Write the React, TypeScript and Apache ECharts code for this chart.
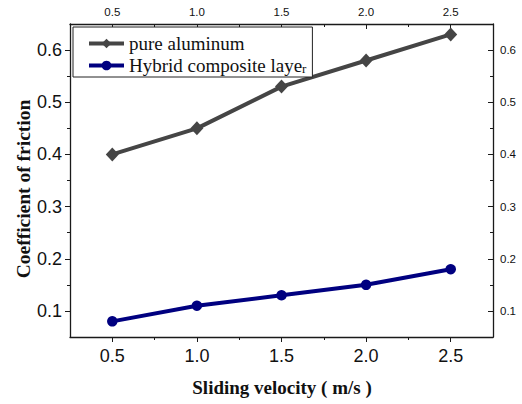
import React, { useEffect, useRef } from "react";
import * as echarts from "echarts";

const velocities = [0.5, 1.0, 1.5, 2.0, 2.5];
const pureAluminum = [0.4, 0.45, 0.53, 0.58, 0.63];
const hybridLayer = [0.08, 0.11, 0.13, 0.15, 0.18];
const xMajor = [0.5, 1.0, 1.5, 2.0, 2.5];
const xMinor = [0.75, 1.25, 1.75, 2.25];
const yMajor = [0.1, 0.2, 0.3, 0.4, 0.5, 0.6];
const yMinor = [0.15, 0.25, 0.35, 0.45, 0.55];
const seriesNames = ["pure aluminum", "Hybrid composite layer"];
const xTitle = "Sliding velocity ( m/s )";
const yTitle = "Coefficient of friction";

const SANS = "'Liberation Sans', Arial, sans-serif";
const SERIF = "'Liberation Serif', 'Times New Roman', serif";
const AX = "#1a1a1a";

export default function App() {
  const ref = useRef<HTMLDivElement>(null);
  useEffect(() => {
    if (!ref.current) return;
    const chart = echarts.init(ref.current, null, { renderer: "svg" });
    const fmt = (v: number) => v.toFixed(1);
    const xBase = { type: "value", min: 0.25, max: 2.75, splitLine: { show: false } };
    const yBase = { type: "value", min: 0.05, max: 0.65, splitLine: { show: false } };
    const line = { show: true, lineStyle: { color: AX, width: 1.3 } };
    chart.setOption({
      animation: false,
      backgroundColor: "#ffffff",
      grid: { left: 70, right: 29, top: 24, bottom: 67 },
      graphic: [
        {
          type: "text",
          x: 282,
          y: 387,
          style: {
            text: xTitle,
            font: "bold 19px " + SERIF,
            fill: "#111",
            align: "center",
            verticalAlign: "middle",
          },
        },
        {
          type: "text",
          x: 23,
          y: 189,
          rotation: Math.PI / 2,
          style: {
            text: yTitle,
            font: "bold 19.5px " + SERIF,
            fill: "#111",
            align: "center",
            verticalAlign: "middle",
          },
        },
      ],
      legend: {
        orient: "vertical",
        left: 73,
        top: 27,
        data: seriesNames,
        itemWidth: 35,
        itemHeight: 12,
        itemGap: 3,
        padding: [7, 6, 2, 14],
        borderColor: "#222",
        borderWidth: 1,
        backgroundColor: "#ffffff",
        lineStyle: { width: 4 },
        textStyle: {
          fontFamily: SERIF,
          fontSize: 19,
          color: "#111",
          rich: {
            a: { fontFamily: SERIF, fontSize: 19, color: "#111" },
            b: { fontFamily: SERIF, fontSize: 13, color: "#111", padding: [6, 0, 0, 0] },
          },
        },
        formatter: (name: string) =>
          name === "Hybrid composite layer" ? "{a|Hybrid composite laye}{b|r}" : "{a|" + name + "}",
      },
      xAxis: [
        {
          ...xBase,
          position: "bottom",
          axisLine: line,
          axisTick: { show: true, customValues: xMajor, length: 5, lineStyle: { color: AX } },
          axisLabel: {
            customValues: xMajor,
            formatter: fmt,
            fontFamily: SANS,
            fontSize: 18,
            color: "#111",
            margin: 10,
          },
        },
        {
          ...xBase,
          position: "bottom",
          axisLine: { show: false },
          axisTick: { show: true, customValues: xMinor, length: 3, lineStyle: { color: AX } },
          axisLabel: { show: false },
        },
        {
          ...xBase,
          position: "top",
          axisLine: line,
          axisTick: { show: true, inside: true, customValues: xMajor, length: 5, lineStyle: { color: AX } },
          axisLabel: {
            customValues: xMajor,
            formatter: fmt,
            fontFamily: SANS,
            fontSize: 11.5,
            color: "#111",
            margin: 6,
          },
        },
        {
          ...xBase,
          position: "top",
          axisLine: { show: false },
          axisTick: { show: true, inside: true, customValues: xMinor, length: 3, lineStyle: { color: AX } },
          axisLabel: { show: false },
        },
      ],
      yAxis: [
        {
          ...yBase,
          position: "left",
          axisLine: line,
          axisTick: { show: true, customValues: yMajor, length: 5, lineStyle: { color: AX } },
          axisLabel: {
            customValues: yMajor,
            formatter: fmt,
            fontFamily: SANS,
            fontSize: 18,
            color: "#111",
            margin: 8,
          },
        },
        {
          ...yBase,
          position: "left",
          axisLine: { show: false },
          axisTick: { show: true, customValues: yMinor, length: 3, lineStyle: { color: AX } },
          axisLabel: { show: false },
        },
        {
          ...yBase,
          position: "right",
          axisLine: line,
          axisTick: { show: true, inside: true, customValues: yMajor, length: 5, lineStyle: { color: AX } },
          axisLabel: {
            customValues: yMajor,
            formatter: fmt,
            fontFamily: SANS,
            fontSize: 11.5,
            color: "#111",
            margin: 7,
          },
        },
        {
          ...yBase,
          position: "right",
          axisLine: { show: false },
          axisTick: { show: true, inside: true, customValues: yMinor, length: 3, lineStyle: { color: AX } },
          axisLabel: { show: false },
        },
      ],
      series: [
        {
          name: seriesNames[0],
          type: "line",
          xAxisIndex: 0,
          yAxisIndex: 0,
          data: velocities.map((v, i) => [v, pureAluminum[i]]),
          symbol: "diamond",
          symbolSize: [13, 14],
          lineStyle: { width: 4, color: "#454545" },
          itemStyle: { color: "#454545" },
        },
        {
          name: seriesNames[1],
          type: "line",
          xAxisIndex: 0,
          yAxisIndex: 0,
          data: velocities.map((v, i) => [v, hybridLayer[i]]),
          symbol: "circle",
          symbolSize: 10.5,
          lineStyle: { width: 4, color: "#000080" },
          itemStyle: { color: "#000080" },
        },
      ],
    });
    return () => chart.dispose();
  }, []);
  return (
    <div
      ref={ref}
      style={{ position: "absolute", left: 0, top: 0, width: 522, height: 404 }}
    />
  );
}
